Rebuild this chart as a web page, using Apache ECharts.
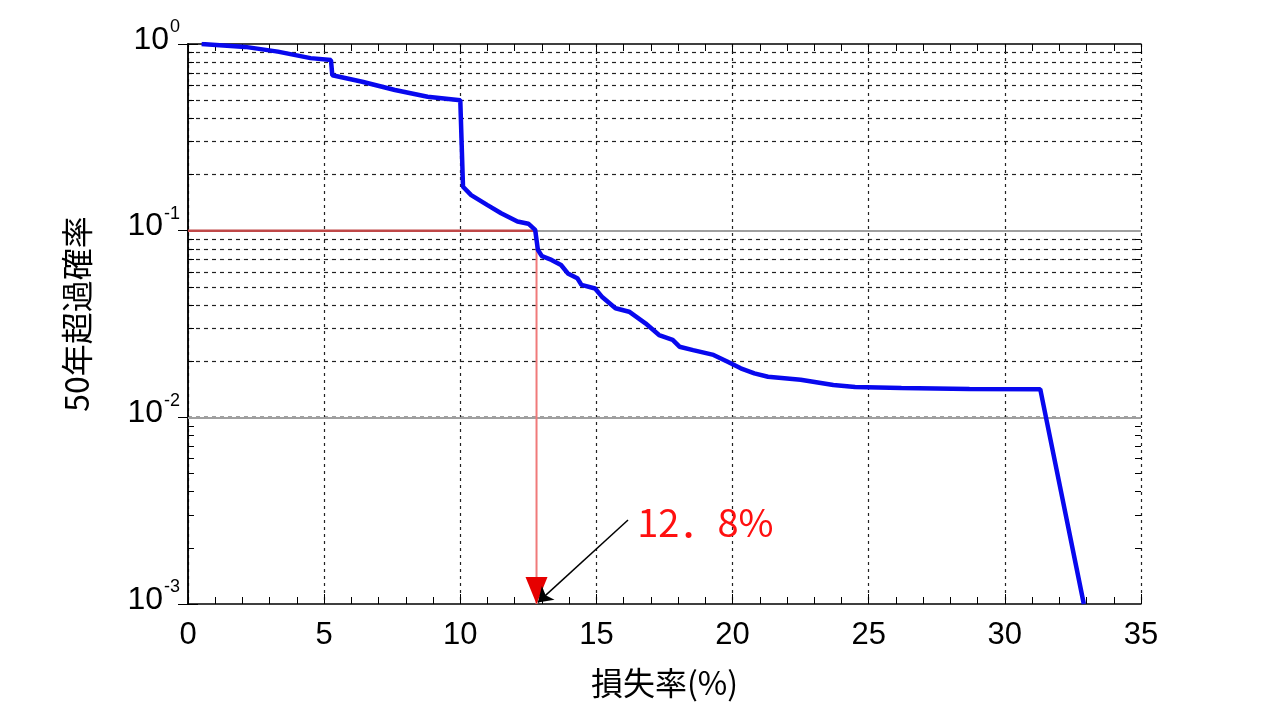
<!DOCTYPE html>
<html>
<head>
<meta charset="utf-8">
<script src="https://cdn.jsdelivr.net/npm/echarts@6/dist/echarts.min.js"></script>
<style>
html,body{margin:0;padding:0;background:#fff;}
#c{width:1280px;height:720px;}
</style>
</head>
<body>
<div id="c"></div>
<script>
// ---- data ----
const lossRate = [0.5, 2.1, 3.3, 4.5, 5.25, 5.3, 6.4, 7.6, 8.8, 10.0, 10.1, 10.4, 11.0, 11.5, 12.1, 12.5, 12.75, 12.85, 13.0, 13.35, 13.7, 13.95, 14.3, 14.45, 14.95, 15.2, 15.7, 16.2, 16.8, 17.3, 17.8, 18.05, 18.55, 19.3, 19.8, 20.3, 20.8, 21.3, 22.5, 23.7, 24.5, 26.2, 28.7, 31.3, 32.9];
const exceedProb = [1.0, 0.965, 0.91, 0.84, 0.82, 0.68, 0.628, 0.567, 0.522, 0.50, 0.172, 0.155, 0.137, 0.124, 0.112, 0.109, 0.101, 0.079, 0.073, 0.0697, 0.0655, 0.059, 0.0556, 0.0512, 0.049, 0.0443, 0.0384, 0.0368, 0.0319, 0.0276, 0.026, 0.0239, 0.0229, 0.0216, 0.0199, 0.0183, 0.0172, 0.0165, 0.0159, 0.0149, 0.01455, 0.01437, 0.0142, 0.01416, 0.001];
const targetProb = 0.1;
const targetLoss = 12.8;
const annotationText = '12．8%';
const arrowStart = [16.16, 0.00282];
const annotationPos = [16.5, 0.00272];
const xTicks = [0, 5, 10, 15, 20, 25, 30, 35];
const yDecades = [0.001, 0.01, 0.1, 1];
const yInnerDecades = [0.01, 0.1];
const yMinorTicks = [0.002,0.003,0.004,0.005,0.006,0.007,0.008,0.009,
                     0.02,0.03,0.04,0.05,0.06,0.07,0.08,0.09,
                     0.2,0.3,0.4,0.5,0.6,0.7,0.8,0.9];
const xAxisName = '損失率(%)';
const yAxisName = '50年超過確率';

// ---- build ----
const curve = lossRate.map((x, i) => [x, exceedProb[i]]);
const xMin = xTicks[0], xMax = xTicks[xTicks.length - 1];
const yMin = yDecades[0], yMax = yDecades[yDecades.length - 1];

const gridLines = yMinorTicks.map(v => ({ yAxis: v }));
const majorLines = yInnerDecades.map(v => [{ coord: [xMin, v] }, { coord: [xMax, v] }]);
const edgeTicks = [];
yMinorTicks.forEach(v => {
  edgeTicks.push([{ coord: [xMin, v] }, { coord: [xMin + 0.22, v] }]);
  edgeTicks.push([{ coord: [xMax - 0.22, v] }, { coord: [xMax, v] }]);
});

const chart = echarts.init(document.getElementById('c'), null, { renderer: 'canvas' });
const numFont = '"Liberation Sans", Arial, sans-serif';
const cjkFont = '"Noto Sans CJK JP", sans-serif';

const option = {
  animation: false,
  backgroundColor: '#fff',
  grid: { left: 188, right: 139, top: 44, bottom: 116, containLabel: false },
  xAxis: [
    {
      type: 'value', position: 'bottom', min: xMin, max: xMax, interval: 5,
      name: xAxisName, nameLocation: 'middle', nameGap: 63,
      nameTextStyle: { fontFamily: cjkFont, fontSize: 32, color: '#000', lineHeight: 32 },
      axisLine: { lineStyle: { color: '#000', width: 1.5 } },
      axisTick: { inside: true, length: 10, lineStyle: { color: '#000' } },
      minorTick: { show: true, splitNumber: 5, length: 7, lineStyle: { color: '#000' } },
      axisLabel: { fontFamily: numFont, fontSize: 31, color: '#000', margin: 16, lineHeight: 31 },
      splitLine: { show: true, lineStyle: { color: '#222', type: [3, 4], width: 1.2 } }
    },
    {
      type: 'value', position: 'top', min: xMin, max: xMax, interval: 5,
      axisLine: { lineStyle: { color: '#000', width: 1.5 } },
      axisTick: { inside: true, length: 10, lineStyle: { color: '#000' } },
      minorTick: { show: true, splitNumber: 5, length: 7, lineStyle: { color: '#000' } },
      axisLabel: { show: false },
      splitLine: { show: false }
    }
  ],
  yAxis: [
    {
      type: 'log', logBase: 10, min: yMin, max: yMax, position: 'left',
      name: yAxisName, nameLocation: 'middle', nameGap: 95, nameRotate: 90,
      nameTextStyle: { fontFamily: cjkFont, fontSize: 32, color: '#000', lineHeight: 32, padding: [0, 0, 0, 20] },
      axisLine: { lineStyle: { color: '#000', width: 1.5 } },
      axisTick: { inside: true, length: 10, lineStyle: { color: '#000' } },
      axisLabel: {
        margin: 8,
        formatter: v => '{b|10}{s|' + Math.round(Math.log10(v)) + '}',
        rich: {
          b: { fontFamily: numFont, fontSize: 32, color: '#000', padding: [0, 0, 8, 0] },
          s: { fontFamily: numFont, fontSize: 18, color: '#000', padding: [0, 0, 33, 1] }
        }
      },
      splitLine: { show: false }
    },
    {
      type: 'log', logBase: 10, min: yMin, max: yMax, position: 'right',
      axisLine: { lineStyle: { color: '#000', width: 1.5 } },
      axisTick: { inside: true, length: 10, lineStyle: { color: '#000' } },
      axisLabel: { show: false },
      splitLine: { show: false }
    }
  ],
  series: [
    {
      type: 'line', xAxisIndex: 0, yAxisIndex: 0, data: [], silent: true, z: 1,
      markLine: {
        z: 1, silent: true, symbol: 'none', animation: false,
        label: { show: false },
        lineStyle: { color: '#222', type: [4, 4], width: 1.2 },
        data: gridLines
      }
    },
    {
      type: 'line', xAxisIndex: 0, yAxisIndex: 0, data: [], silent: true, z: 2,
      markLine: {
        z: 2, silent: true, symbol: 'none', animation: false,
        label: { show: false },
        lineStyle: { color: '#a0a0a0', type: 'solid', width: 2 },
        data: majorLines
      }
    },
    {
      type: 'line', xAxisIndex: 0, yAxisIndex: 0, data: [], silent: true, z: 2,
      markLine: {
        z: 2, silent: true, symbol: 'none', animation: false,
        label: { show: false },
        lineStyle: { color: '#000', type: 'solid', width: 1 },
        data: edgeTicks
      }
    },
    {
      name: 'target-h', type: 'line', xAxisIndex: 0, yAxisIndex: 0, z: 10,
      symbol: 'none', data: [[xMin, targetProb], [targetLoss, targetProb]],
      lineStyle: { color: '#c04848', width: 2.5 }
    },
    {
      name: 'target-v', type: 'line', xAxisIndex: 0, yAxisIndex: 0, z: 10,
      symbol: 'none', data: [[targetLoss, targetProb], [targetLoss, yMin]],
      lineStyle: { color: '#f07a7a', width: 2 }
    },
    {
      name: 'curve', type: 'line', xAxisIndex: 0, yAxisIndex: 0, z: 11,
      symbol: 'none', data: curve,
      lineStyle: { color: '#0808ee', width: 4.5 }
    },
    {
      name: 'tri', type: 'scatter', xAxisIndex: 0, yAxisIndex: 0, z: 12,
      data: [[targetLoss, yMin]],
      symbol: 'path://M0,0 L22,0 L11,27 Z', symbolSize: [22, 27], symbolOffset: [0, '-50%'],
      itemStyle: { color: '#e60000', opacity: 1 }
    },
    {
      name: 'arrow', type: 'lines', coordinateSystem: 'cartesian2d', xAxisIndex: 0, yAxisIndex: 0, z: 13,
      symbol: ['none', 'arrow'], symbolSize: 14,
      lineStyle: { color: '#000', width: 1.5, opacity: 1 },
      data: [{ coords: [arrowStart, [targetLoss + 0.05, yMin * 1.02]] }]
    },
    {
      name: 'note', type: 'scatter', xAxisIndex: 0, yAxisIndex: 0, z: 14,
      data: [annotationPos], symbolSize: 0,
      itemStyle: { opacity: 1 },
      label: {
        show: true, position: 'right', distance: 0, formatter: annotationText,
        fontFamily: cjkFont, fontSize: 38, color: '#ff1010', opacity: 1
      }
    }
  ]
};
chart.setOption(option);
</script>
</body>
</html>
